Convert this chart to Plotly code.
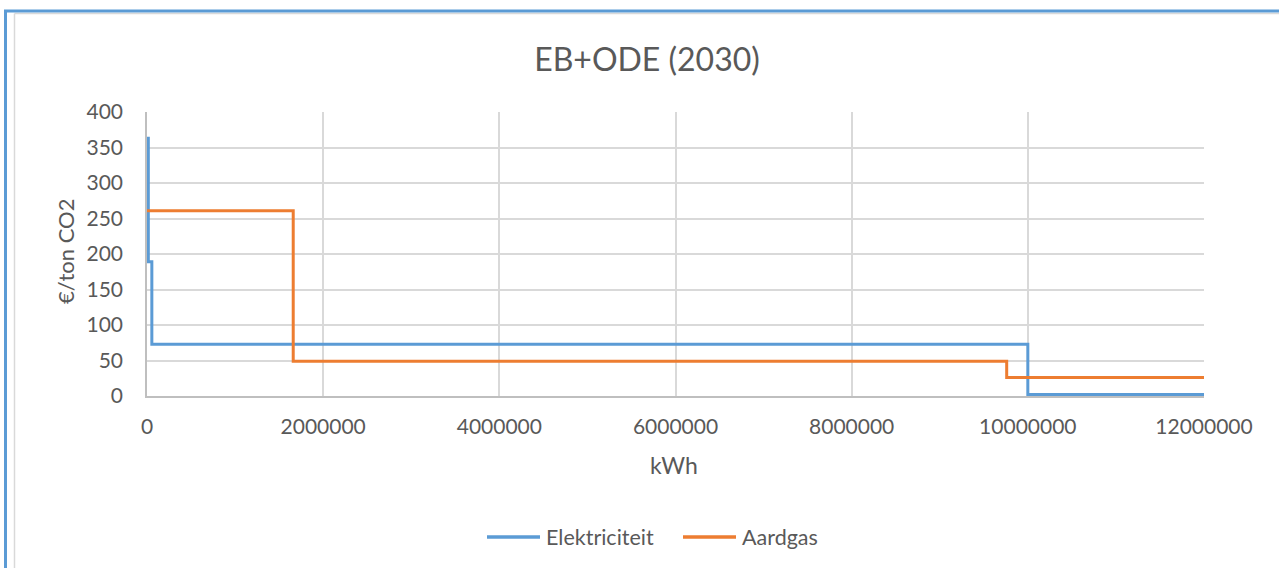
import plotly.graph_objects as go

# Step curves: cost per ton CO2 against annual consumption (kWh)
elek_kwh = [0, 15000, 15000, 55000, 55000, 10000000, 10000000, 12000000]
elek_cost = [363, 363, 189, 189, 73, 73, 2, 2]

gas_kwh = [0, 1660000, 1660000, 9760000, 9760000, 12000000]
gas_cost = [261, 261, 49, 49, 26, 26]

x_ticks = [0, 2000000, 4000000, 6000000, 8000000, 10000000, 12000000]
y_ticks = [0, 50, 100, 150, 200, 250, 300, 350, 400]

series = [
    ("Elektriciteit", elek_kwh, elek_cost, "#5b9bd5"),
    ("Aardgas", gas_kwh, gas_cost, "#ed7d31"),
]

W, H = 1279, 568
L, R, T, B = 147, 75, 112, 172
PW, PH = W - L - R, H - T - B

FONT = "Lato, 'Open Sans', sans-serif"
TXT = "#595959"
GRID = "#d9d9d9"


def px(x):
    return (x - L) / PW


def py(y):
    return (H - B - y) / PH


fig = go.Figure()
for name, xs, ys, col in series:
    fig.add_trace(go.Scatter(x=xs, y=ys, mode="lines", name=name,
                             line=dict(color=col, width=3), showlegend=False))

fig.update_layout(
    width=W, height=H,
    margin=dict(l=L, r=R, t=T, b=B),
    paper_bgcolor="white", plot_bgcolor="white",
    font=dict(family=FONT, color=TXT, size=20),
    title=dict(text="EB+ODE (2030)", x=px(647), xanchor="center", xref="paper",
               y=1 - 60 / H, yanchor="middle", yref="container",
               font=dict(size=32, color=TXT, family=FONT)),
    xaxis=dict(range=[0, 12000000], tickvals=x_ticks, ticktext=[str(v) for v in x_ticks],
               showgrid=True, gridcolor=GRID, gridwidth=1.5, zeroline=False,
               showline=True, linecolor="#bfbfbf", linewidth=1.5,
               ticks="", ticklabelstandoff=11, tickfont=dict(size=21, color=TXT)),
    yaxis=dict(range=[0, 400], tickvals=y_ticks, showgrid=True, gridcolor=GRID, gridwidth=1.5,
               zeroline=False, showline=True, linecolor="#bfbfbf", linewidth=1.5,
               ticks="", ticklabelstandoff=18, tickfont=dict(size=21, color=TXT)),
)

# Legend below the chart: line sample followed by series name
legend_x = [487, 683]
for (name, _, _, col), lx in zip(series, legend_x):
    fig.add_shape(type="line", xref="paper", yref="paper", x0=px(lx), x1=px(lx + 53),
                  y0=py(537), y1=py(537), line=dict(color=col, width=3.5))
    fig.add_annotation(text=name, x=px(lx + 57), y=py(537), xref="paper", yref="paper",
                       showarrow=False, xanchor="left", yanchor="middle",
                       font=dict(size=21.5, color=TXT))

# Axis titles
fig.add_annotation(text="kWh", x=px(674), y=py(465), xref="paper", yref="paper",
                   showarrow=False, font=dict(size=23, color=TXT), xanchor="center", yanchor="middle")
fig.add_annotation(text="€/ton CO2", x=px(65), y=py(252), xref="paper", yref="paper",
                   showarrow=False, textangle=-90, font=dict(size=22, color=TXT),
                   xanchor="center", yanchor="middle")

# Chart frame: selection border plus light inner edge
fig.add_shape(type="line", xref="paper", yref="paper", x0=px(14.5), x1=px(1290), y0=py(13.5), y1=py(13.5),
              line=dict(color=GRID, width=1.5), layer="below")
fig.add_shape(type="line", xref="paper", yref="paper", x0=px(14.5), x1=px(14.5), y0=py(13.5), y1=py(580),
              line=dict(color=GRID, width=1.5), layer="below")
fig.add_shape(type="line", xref="paper", yref="paper", x0=px(4), x1=px(1290), y0=py(11), y1=py(11),
              line=dict(color="#5b9bd5", width=3), layer="above")
fig.add_shape(type="line", xref="paper", yref="paper", x0=px(5.5), x1=px(5.5), y0=py(10), y1=py(580),
              line=dict(color="#5b9bd5", width=3), layer="above")

fig.write_html("out.html")
